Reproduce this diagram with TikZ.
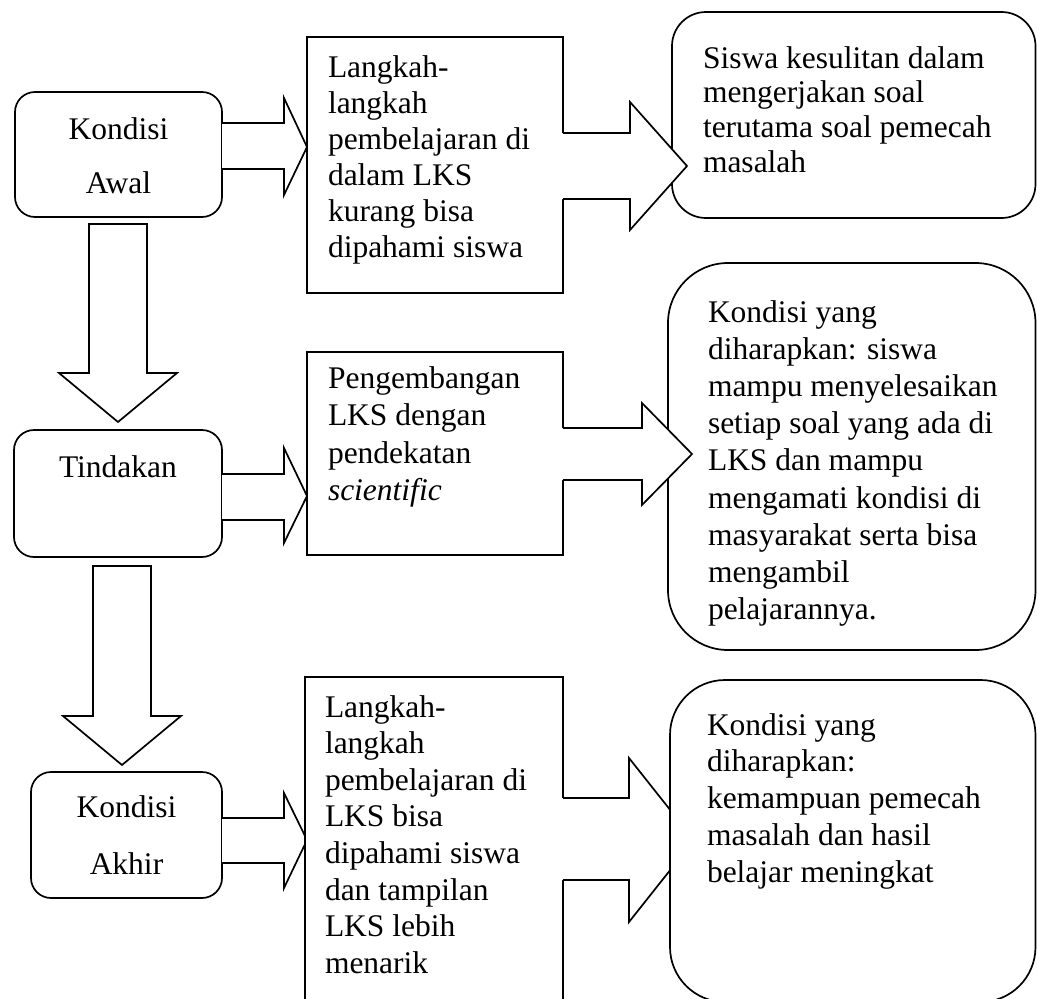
\documentclass[tikz,border=0pt]{standalone}
\usepackage{fontspec}
\setmainfont{Liberation Serif}
\newcommand{\mtext}[2]{\parbox[t]{340pt}{\fontsize{31.5pt}{#1}\selectfont\raggedright #2}}
\begin{document}
\begin{tikzpicture}[x=1pt,y=-1pt,line width=1.7pt,
  every node/.style={inner sep=0pt,outer sep=0pt,font=\fontsize{31.5pt}{36pt}\selectfont},
  lbox/.style={draw,fill=white,rectangle,rounded corners=20pt},
  mbox/.style={draw,fill=white,rectangle},
  rbox/.style={draw,fill=white,rectangle,rounded corners=#1},
  blk/.style={draw,fill=white,line join=miter},
  bfill/.style={fill=white},
  bline/.style={draw,line join=miter},
  txt/.style={anchor=base west},
  ctxt/.style={anchor=base}]
\useasboundingbox (0,0) rectangle (1037,999);
\clip (0,0) rectangle (1037,999);

% left rounded boxes
\node[lbox,minimum width=207pt,minimum height=125pt] (awal) at (118.5,154.5) {};
\node[lbox,minimum width=208pt,minimum height=127pt] (tindakan) at (118,493.5) {};
\node[lbox,minimum width=191pt,minimum height=126pt] (akhir) at (126.5,835) {};

% down block arrows
\draw[blk] (89,224) -- (147,224) -- (147,373) -- (177,373) -- (118,422) -- (59,373) -- (89,373) -- cycle;
\draw[blk] (93,566) -- (151,566) -- (151,716) -- (181,716) -- (122,765) -- (63,716) -- (93,716) -- cycle;

% small right block arrows
\fill[bfill] (222,123) -- (284,123) -- (284,98) -- (307,147) -- (284,195) -- (284,169) -- (222,169) -- cycle;
\draw[bline] (222,123) -- (284,123) -- (284,98) -- (307,147) -- (284,195) -- (284,169) -- (222,169);
\fill[bfill] (222,474) -- (284,474) -- (284,448) -- (307,496) -- (284,543) -- (284,520) -- (222,520) -- cycle;
\draw[bline] (222,474) -- (284,474) -- (284,448) -- (307,496) -- (284,543) -- (284,520) -- (222,520);
\fill[bfill] (222,818) -- (284,818) -- (284,793) -- (307,840) -- (284,888) -- (284,863) -- (222,863) -- cycle;
\draw[bline] (222,818) -- (284,818) -- (284,793) -- (307,840) -- (284,888) -- (284,863) -- (222,863);

% middle boxes
\node[mbox,minimum width=256pt,minimum height=256pt] (m1) at (435,165) {};
\node[mbox,minimum width=256pt,minimum height=203pt] (m2) at (435,453.5) {};
\node[mbox,minimum width=258pt,minimum height=333pt] (m3) at (434,843.5) {};

% right rounded boxes 1 and 2
\node[rbox=34pt,minimum width=363.5pt,minimum height=206pt] (r1) at (853.75,115) {};
\node[rbox=60pt,minimum width=367.5pt,minimum height=387pt] (r2) at (851.75,456.5) {};

% big block arrows
\fill[bfill] (561,133) -- (630,133) -- (630,102) -- (687,166) -- (630,230) -- (630,199) -- (561,199) -- cycle;
\draw[bline] (563,133) -- (630,133) -- (630,102) -- (687,166) -- (630,230) -- (630,199) -- (563,199);
\fill[bfill] (561,428) -- (642,428) -- (642,403) -- (692,454) -- (642,505) -- (642,480) -- (561,480) -- cycle;
\draw[bline] (563,428) -- (642,428) -- (642,403) -- (692,454) -- (642,505) -- (642,480) -- (563,480);
\fill[bfill] (561,798) -- (629,798) -- (629,758) -- (694,840) -- (629,922) -- (629,880) -- (561,880) -- cycle;
\draw[bline] (563,798) -- (629,798) -- (629,758) -- (694,840) -- (629,922) -- (629,880) -- (563,880);

% right rounded box 3 (on top of its arrow)
\node[rbox=55pt,minimum width=365.5pt,minimum height=322pt] (r3) at (852.75,841) {};

% texts
\node[ctxt] (tA1) at (118.5,139) {Kondisi};
\node[ctxt] (tA2) at (118.5,193) {Awal};
\node[ctxt] (tT) at (118,477) {Tindakan};
\node[ctxt] (tK1) at (126.5,817) {Kondisi};
\node[ctxt] (tK2) at (126.5,874) {Akhir};

\node[txt] (tm1) at (328,77) {\mtext{36pt}{Langkah-\\langkah\\pembelajaran di\\dalam LKS\\kurang bisa\\dipahami siswa}};
\node[txt] (tm2) at (328,388) {\mtext{37.5pt}{Pengembangan\\LKS dengan\\pendekatan\\\textit{scientific}}};
\node[txt] (tm3) at (325,717) {\mtext{36.6pt}{Langkah-\\langkah\\pembelajaran di\\LKS bisa\\dipahami siswa\\dan tampilan\\LKS lebih\\menarik}};

\node[txt] (tr1) at (703,68) {\mtext{34.7pt}{Siswa kesulitan dalam\\mengerjakan soal\\terutama soal pemecah\\masalah}};
\node[txt] (tr2) at (708,322) {\mtext{37.2pt}{Kondisi yang\\diharapkan: siswa\\mampu menyelesaikan\\setiap soal yang ada di\\LKS dan mampu\\mengamati kondisi di\\masyarakat serta bisa\\mengambil\\pelajarannya.}};
\node[txt] (tr3) at (707,735) {\mtext{36.75pt}{Kondisi yang\\diharapkan:\\kemampuan pemecah\\masalah dan hasil\\belajar meningkat}};
\end{tikzpicture}
\end{document}
